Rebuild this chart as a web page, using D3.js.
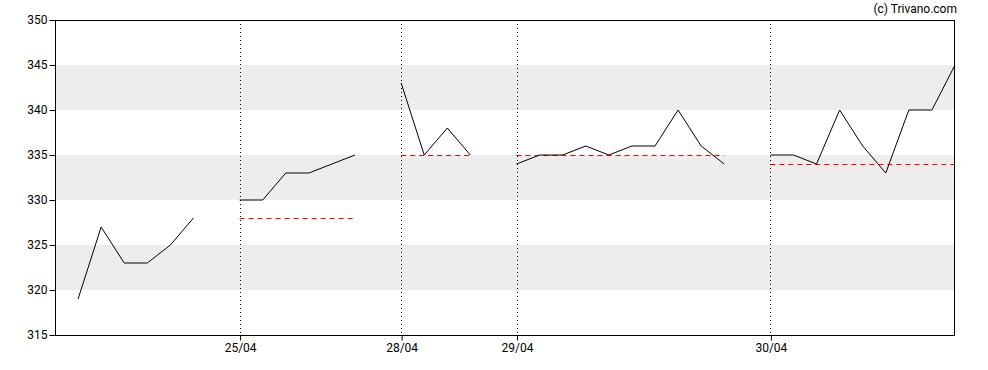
<!DOCTYPE html>
<html>
<head>
<meta charset="utf-8">
<script src="https://cdn.jsdelivr.net/npm/d3@7"></script>
<style>
  html, body { margin: 0; padding: 0; background: #fff; }
  svg { display: block; font-family: Roboto, "Liberation Sans", sans-serif; }
</style>
</head>
<body>
<svg id="chart" width="988" height="370"></svg>
<script>
// Day segments (intraday prices), index-based x positions with a one-slot gap between days
const day1 = [319, 327, 323, 323, 325, 328];
const day2 = [330, 330, 333, 333, 334, 335];
const day3 = [343, 335, 338, 335];
const day4 = [334, 335, 335, 336, 335, 336, 336, 340, 336, 334];
const day5 = [335, 335, 334, 340, 336, 333, 340, 340, 345];
const days = [day1, day2, day3, day4, day5];
const dayLabels = [null, "25/04", "28/04", "29/04", "30/04"];
const prevClose = [null, 328, 335, 335, 334];
const yTicks = [315, 320, 325, 330, 335, 340, 345, 350];
const bands = [[320, 325], [330, 335], [340, 345]];

const svg = d3.select("#chart");
const margin = { left: 55, right: 33, top: 20, bottom: 35 };
const W = 988, H = 370;

// Build index positions
let idx = 0;
const segs = days.map((vals, d) => {
  const start = idx;
  const pts = vals.map((v, i) => ({ i: start + i, v }));
  idx = start + vals.length + 1;
  return { start, end: start + vals.length - 1, pts, label: dayLabels[d], prev: prevClose[d] };
});
const lastIndex = segs[segs.length - 1].end;

const x = d3.scaleLinear().domain([-1, lastIndex]).range([margin.left, W - margin.right]);
const y = d3.scaleLinear().domain([315, 350]).range([H - margin.bottom, margin.top]);

// Bands
svg.append("g").selectAll("rect").data(bands).join("rect")
  .attr("x", margin.left).attr("width", W - margin.right - margin.left)
  .attr("y", d => y(d[1])).attr("height", d => y(d[0]) - y(d[1]))
  .attr("fill", "#ededed");

// Vertical dotted day separators
const sepSegs = segs.filter(s => s.label);
svg.append("g").selectAll("line").data(sepSegs).join("line")
  .attr("x1", d => Math.round(x(d.start)) + 0.5).attr("x2", d => Math.round(x(d.start)) + 0.5)
  .attr("y1", margin.top).attr("y2", H - margin.bottom)
  .attr("stroke", "#000").attr("stroke-width", 1).attr("stroke-dasharray", "1,3");

// Previous close dashed lines
svg.append("g").selectAll("line").data(segs.filter(s => s.prev != null)).join("line")
  .attr("x1", d => x(d.start)).attr("x2", d => x(d.end))
  .attr("y1", d => Math.round(y(d.prev)) + 0.5).attr("y2", d => Math.round(y(d.prev)) + 0.5)
  .attr("stroke", "#ff0000").attr("stroke-width", 1).attr("stroke-dasharray", "5,4");

// Price lines
const line = d3.line().x(d => x(d.i)).y(d => y(d.v));
svg.append("g").selectAll("path").data(segs).join("path")
  .attr("d", d => line(d.pts))
  .attr("fill", "none").attr("stroke", "#000").attr("stroke-width", 1);

// Frame
svg.append("rect")
  .attr("x", margin.left + 0.5).attr("y", margin.top + 0.5)
  .attr("width", W - margin.right - margin.left - 1).attr("height", H - margin.bottom - margin.top)
  .attr("fill", "none").attr("stroke", "#000").attr("stroke-width", 1);

// Y axis
const yAxis = d3.axisLeft(y).tickValues(yTicks).tickSize(6).tickPadding(2).tickFormat(d3.format("d"));
const gy = svg.append("g").attr("transform", `translate(${margin.left + 0.5},0)`).call(yAxis);
gy.select(".domain").remove();
gy.selectAll("text").attr("font-size", 12).attr("font-family", "Roboto, sans-serif").attr("fill", "#000");

// X axis
const xAxis = d3.axisBottom(x).tickValues(sepSegs.map(s => s.start))
  .tickFormat((d, i) => sepSegs[i].label).tickSize(5).tickPadding(3);
const gx = svg.append("g").attr("transform", `translate(0.5,${H - margin.bottom + 0.5})`).call(xAxis);
gx.select(".domain").remove();
gx.selectAll("text").attr("font-size", 12).attr("font-family", "Roboto, sans-serif").attr("fill", "#000");

// Copyright
svg.append("text").attr("x", 957).attr("y", 13).attr("text-anchor", "end")
  .attr("font-size", 12).attr("fill", "#000").text("(c) Trivano.com");
</script>
</body>
</html>
